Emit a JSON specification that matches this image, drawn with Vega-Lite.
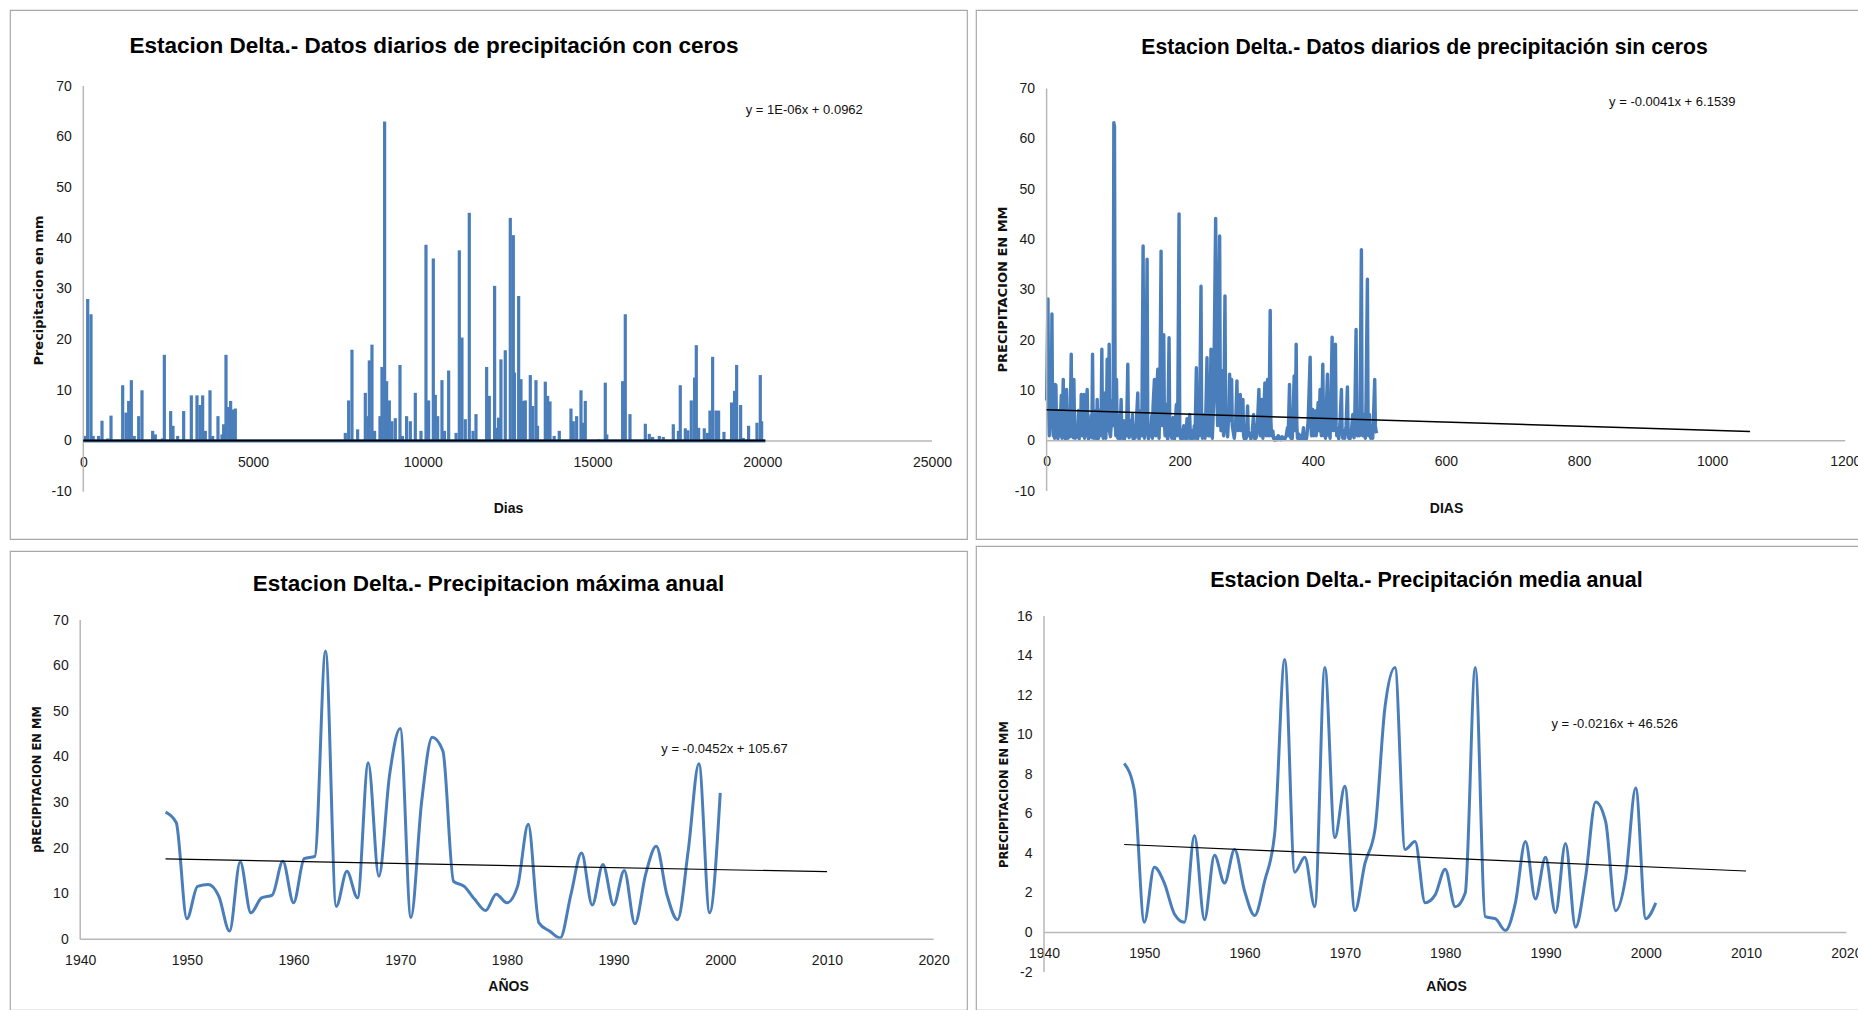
{
"$schema": "https://vega.github.io/schema/vega-lite/v6.json",
"background": "white",
"padding": {"left": 9, "top": 9, "right": 0, "bottom": 0},
"config": {
  "locale": {"number": {"decimal": ".", "thousands": ",", "grouping": [3], "currency": ["$", ""], "minus": "-"}},
  "view": {"stroke": "#a8a8a8", "strokeWidth": 1.2},
  "axis": {"grid": false, "ticks": false, "domain": false, "labelFont": "Liberation Sans, Arial, sans-serif", "labelFontSize": 14, "labelColor": "#1a1a1a", "labelFlush": false, "labelOverlap": false, "format": "d", "titleFont": "Liberation Sans, Arial, sans-serif", "titleFontWeight": "bold", "titleFontSize": 14, "titleColor": "#111111"},
  "axisLeft": {"labelPadding": 12, "titleAngle": -90, "titleBaseline": "middle", "titleAlign": "center", "titleFont": "DejaVu Sans", "titleFontSize": 13},
  "axisBottom": {"labelPadding": 14, "titleBaseline": "middle", "titleAlign": "center"},
  "title": {"font": "Liberation Sans, Arial, sans-serif", "fontSize": 22.5, "fontWeight": "bold", "color": "#000000", "anchor": "middle", "frame": "group"},
  "text": {"font": "Liberation Sans, Arial, sans-serif", "fontSize": 13, "color": "#111111"}
},
"datasets": {
  "p1": [
    {"day":60,"mm":1},{"day":129,"mm":28},{"day":227,"mm":25},{"day":290,"mm":1},{"day":450,"mm":1},{"day":551,"mm":4},{"day":720,"mm":0.5},{"day":816,"mm":5},{"day":1160,"mm":11},{"day":1258,"mm":5.6},{"day":1336,"mm":7.9},{"day":1415,"mm":12},{"day":1500,"mm":1},{"day":1631,"mm":4.9},{"day":1729,"mm":10},{"day":2043,"mm":2},{"day":2122,"mm":1.3},{"day":2330,"mm":0.5},{"day":2387,"mm":17},{"day":2573,"mm":5.9},{"day":2642,"mm":3},{"day":2780,"mm":1},{"day":2956,"mm":5.9},{"day":3182,"mm":9},{"day":3349,"mm":9},{"day":3437,"mm":7.1},{"day":3516,"mm":9},{"day":3594,"mm":2},{"day":3732,"mm":10},{"day":3810,"mm":1},{"day":3967,"mm":4.9},{"day":4085,"mm":1.3},{"day":4134,"mm":3.3},{"day":4203,"mm":17},{"day":4282,"mm":6.7},{"day":4340,"mm":7.9},{"day":4400,"mm":6.2},{"day":4478,"mm":6.4},
    {"day":7718,"mm":1.6},{"day":7816,"mm":8},{"day":7914,"mm":18},{"day":8081,"mm":2.3},{"day":8307,"mm":9.5},{"day":8386,"mm":4.9},{"day":8425,"mm":15.9},{"day":8503,"mm":19},{"day":8580,"mm":2},{"day":8739,"mm":4.9},{"day":8798,"mm":14.6},{"day":8876,"mm":63},{"day":8935,"mm":11.8},{"day":9014,"mm":8},{"day":9092,"mm":3.9},{"day":9191,"mm":4.5},{"day":9328,"mm":15},{"day":9400,"mm":1},{"day":9524,"mm":4.9},{"day":9633,"mm":3.9},{"day":9780,"mm":9.5},{"day":9947,"mm":2},{"day":10094,"mm":38.7},{"day":10172,"mm":8},{"day":10310,"mm":36},{"day":10369,"mm":9.1},{"day":10438,"mm":4.9},{"day":10565,"mm":12},{"day":10640,"mm":2},{"day":10762,"mm":13.9},{"day":10980,"mm":1.6},{"day":11076,"mm":37.6},{"day":11154,"mm":20.4},{"day":11252,"mm":4.3},{"day":11370,"mm":45},{"day":11480,"mm":2},{"day":11567,"mm":5.3},{"day":11881,"mm":14.6},{"day":11959,"mm":8.9},{"day":12116,"mm":30.6},{"day":12180,"mm":2.6},{"day":12234,"mm":4.6},{"day":12302,"mm":16.1},{"day":12430,"mm":17.9},{"day":12578,"mm":44},{"day":12667,"mm":40.6},{"day":12700,"mm":13.5},{"day":12824,"mm":28.6},{"day":12892,"mm":12.2},{"day":12961,"mm":7.9},{"day":13020,"mm":8},{"day":13167,"mm":13},{"day":13240,"mm":6.9},{"day":13334,"mm":12},{"day":13380,"mm":3},{"day":13609,"mm":11.7},{"day":13678,"mm":8.9},{"day":13747,"mm":7.8},{"day":13870,"mm":1},{"day":14021,"mm":2},{"day":14365,"mm":6.4},{"day":14434,"mm":3.9},{"day":14532,"mm":4.9},{"day":14660,"mm":10},{"day":14710,"mm":3.6},{"day":14787,"mm":7.9},{"day":15180,"mm":0.3},{"day":15376,"mm":11.5},{"day":15420,"mm":1.3},{"day":15887,"mm":11.8},{"day":15965,"mm":25},{"day":16103,"mm":5.3},{"day":16555,"mm":3.4},{"day":16672,"mm":1.4},{"day":16770,"mm":0.8},{"day":16967,"mm":1},{"day":17085,"mm":0.8},{"day":17379,"mm":3.3},{"day":17530,"mm":2},{"day":17585,"mm":11},{"day":17733,"mm":2.5},{"day":17810,"mm":2.1},{"day":17909,"mm":8},{"day":18007,"mm":12.5},{"day":18057,"mm":18.9},{"day":18125,"mm":2.6},{"day":18292,"mm":2.5},{"day":18390,"mm":1.6},{"day":18459,"mm":6},{"day":18538,"mm":16.6},{"day":18636,"mm":6},{"day":18714,"mm":6},{"day":18872,"mm":1.8},{"day":19097,"mm":7.6},{"day":19146,"mm":7.1},{"day":19185,"mm":9.9},{"day":19245,"mm":15},{"day":19363,"mm":7.1},{"day":19441,"mm":0.6},{"day":19598,"mm":3},{"day":19844,"mm":3.6},{"day":19942,"mm":13},{"day":19981,"mm":3.9}
  ],
  "p2": [
    {"d":0,"mm":8},{"d":2,"mm":28.2},{"d":3,"mm":6},{"d":4,"mm":1},{"d":5,"mm":4},{"d":7,"mm":5},{"d":8,"mm":25.2},{"d":9,"mm":4.5},{"d":10,"mm":1},{"d":11,"mm":3},{"d":12,"mm":0.5},{"d":13,"mm":11.2},{"d":14,"mm":11},{"d":15,"mm":1},{"d":16,"mm":4},{"d":17,"mm":0.4},{"d":19,"mm":6},{"d":20,"mm":1},{"d":22,"mm":9},{"d":23,"mm":0.5},{"d":25,"mm":12.2},{"d":26,"mm":1},{"d":27,"mm":5},{"d":28,"mm":0.3},{"d":30,"mm":10.2},{"d":31,"mm":2},{"d":32,"mm":0.5},{"d":34,"mm":3},{"d":35,"mm":0.8},{"d":37,"mm":17.2},{"d":38,"mm":1},{"d":39,"mm":4},{"d":40,"mm":0.6},{"d":41,"mm":12.2},{"d":42,"mm":2},{"d":43,"mm":0.5},{"d":45,"mm":3},{"d":46,"mm":0.8},{"d":48,"mm":6},{"d":49,"mm":0.4},{"d":50,"mm":5},{"d":51,"mm":1},{"d":52,"mm":9.2},{"d":53,"mm":9},{"d":54,"mm":1},{"d":55,"mm":3},{"d":56,"mm":9.2},{"d":57,"mm":0.5},{"d":58,"mm":4},{"d":59,"mm":1},{"d":60,"mm":8},{"d":61,"mm":10.2},{"d":62,"mm":2},{"d":63,"mm":0.3},{"d":65,"mm":4},{"d":66,"mm":1},{"d":67,"mm":5},{"d":68,"mm":0.6},{"d":69,"mm":17.2},{"d":70,"mm":3},{"d":71,"mm":0.5},{"d":72,"mm":6},{"d":73,"mm":1},{"d":74,"mm":4},{"d":75,"mm":0.4},{"d":76,"mm":8.2},{"d":77,"mm":2},{"d":78,"mm":0.5},{"d":79,"mm":6},{"d":80,"mm":1},{"d":81,"mm":3},{"d":82,"mm":6},{"d":83,"mm":18.2},{"d":84,"mm":2},{"d":85,"mm":0.5},{"d":86,"mm":5},{"d":87,"mm":9.5},{"d":88,"mm":1},{"d":89,"mm":0.5},{"d":90,"mm":5},{"d":91,"mm":16.2},{"d":92,"mm":2},{"d":93,"mm":4},{"d":94,"mm":19.2},{"d":95,"mm":1.5},{"d":96,"mm":0.8},{"d":98,"mm":5},{"d":99,"mm":8},{"d":100,"mm":3},{"d":101,"mm":63.2},{"d":102,"mm":62.5},{"d":103,"mm":4},{"d":104,"mm":1},{"d":105,"mm":12.2},{"d":106,"mm":2},{"d":107,"mm":0.5},{"d":108,"mm":5},{"d":109,"mm":1},{"d":110,"mm":0.4},{"d":112,"mm":8.2},{"d":113,"mm":1},{"d":114,"mm":0.5},{"d":116,"mm":4},{"d":117,"mm":0.3},{"d":119,"mm":3},{"d":120,"mm":1},{"d":122,"mm":15.2},{"d":123,"mm":2},{"d":124,"mm":0.6},{"d":126,"mm":4},{"d":127,"mm":1},{"d":129,"mm":5.2},{"d":130,"mm":0.3},{"d":131,"mm":2},{"d":133,"mm":0.5},{"d":135,"mm":4},{"d":137,"mm":9.5},{"d":138,"mm":1},{"d":139,"mm":0.3},{"d":141,"mm":3},{"d":142,"mm":6},{"d":143,"mm":1},{"d":145,"mm":38.7},{"d":146,"mm":4},{"d":147,"mm":0.5},{"d":148,"mm":2},{"d":149,"mm":8},{"d":151,"mm":36.1},{"d":152,"mm":2},{"d":153,"mm":0.4},{"d":155,"mm":3},{"d":156,"mm":1},{"d":158,"mm":5},{"d":159,"mm":0.5},{"d":160,"mm":7},{"d":162,"mm":12.2},{"d":163,"mm":3},{"d":164,"mm":1},{"d":165,"mm":8},{"d":167,"mm":14.2},{"d":168,"mm":2},{"d":169,"mm":0.5},{"d":170,"mm":6},{"d":172,"mm":37.7},{"d":173,"mm":5},{"d":174,"mm":3},{"d":176,"mm":21.1},{"d":177,"mm":4},{"d":178,"mm":1},{"d":180,"mm":7.2},{"d":181,"mm":1},{"d":182,"mm":0.3},{"d":184,"mm":20.5},{"d":185,"mm":3},{"d":186,"mm":1},{"d":187,"mm":4},{"d":188,"mm":0.5},{"d":190,"mm":4.6},{"d":191,"mm":1},{"d":192,"mm":0.3},{"d":193,"mm":3},{"d":195,"mm":7.2},{"d":196,"mm":1},{"d":197,"mm":4},{"d":199,"mm":45.1},{"d":200,"mm":3},{"d":201,"mm":0.5},{"d":203,"mm":2},{"d":204,"mm":0.3},{"d":206,"mm":3},{"d":207,"mm":1},{"d":209,"mm":0.4},{"d":211,"mm":4.4},{"d":212,"mm":1},{"d":213,"mm":0.5},{"d":215,"mm":5.2},{"d":216,"mm":1},{"d":217,"mm":0.3},{"d":219,"mm":2},{"d":220,"mm":0.5},{"d":222,"mm":3},{"d":223,"mm":0.5},{"d":225,"mm":14.5},{"d":226,"mm":2},{"d":227,"mm":0.4},{"d":228,"mm":4},{"d":229,"mm":1},{"d":230,"mm":5},{"d":232,"mm":30.7},{"d":233,"mm":3},{"d":234,"mm":0.5},{"d":236,"mm":2},{"d":237,"mm":5.2},{"d":238,"mm":0.5},{"d":239,"mm":4},{"d":241,"mm":16.5},{"d":242,"mm":3},{"d":243,"mm":1},{"d":244,"mm":5},{"d":245,"mm":1},{"d":247,"mm":18.2},{"d":248,"mm":2},{"d":249,"mm":0.5},{"d":250,"mm":4},{"d":251,"mm":8},
    {"d":254,"mm":44.2},{"d":256,"mm":8},{"d":257,"mm":3},{"d":258,"mm":12},{"d":260,"mm":40.7},{"d":261,"mm":6},{"d":262,"mm":2},{"d":264,"mm":13.9},{"d":265,"mm":3},{"d":266,"mm":1},{"d":268,"mm":28.8},{"d":269,"mm":5},{"d":270,"mm":2},{"d":271,"mm":1.9},{"d":272,"mm":0.8},{"d":274,"mm":6},{"d":275,"mm":13.2},{"d":276,"mm":4},{"d":277,"mm":8},{"d":278,"mm":12.2},{"d":279,"mm":3},{"d":281,"mm":1.3},{"d":282,"mm":0.5},{"d":284,"mm":3},{"d":286,"mm":11.9},{"d":287,"mm":4},{"d":288,"mm":2},{"d":290,"mm":5},{"d":291,"mm":9.2},{"d":292,"mm":2},{"d":294,"mm":3},{"d":295,"mm":8.2},{"d":296,"mm":1},{"d":297,"mm":0.4},{"d":299,"mm":1.6},{"d":300,"mm":0.5},{"d":302,"mm":6.9},{"d":303,"mm":2},{"d":304,"mm":1},{"d":306,"mm":1.3},{"d":307,"mm":0.3},{"d":309,"mm":2},{"d":311,"mm":5.2},{"d":312,"mm":1},{"d":313,"mm":0.3},{"d":315,"mm":0.6},{"d":316,"mm":2},{"d":317,"mm":4},{"d":319,"mm":10.2},{"d":320,"mm":3},{"d":321,"mm":1},{"d":323,"mm":8.2},{"d":324,"mm":2},{"d":325,"mm":0.5},{"d":326,"mm":4},{"d":328,"mm":11.5},{"d":329,"mm":3},{"d":330,"mm":1},{"d":331,"mm":6},{"d":332,"mm":12.2},{"d":333,"mm":4},{"d":334,"mm":1},{"d":336,"mm":25.9},{"d":337,"mm":4},{"d":338,"mm":1},{"d":340,"mm":1.9},{"d":341,"mm":0.5},{"d":343,"mm":0.1},{"d":345,"mm":0.6},{"d":347,"mm":0.2},{"d":348,"mm":1},{"d":350,"mm":0.7},{"d":352,"mm":0.2},{"d":354,"mm":0.8},{"d":356,"mm":0.3},{"d":358,"mm":0.3},{"d":360,"mm":1},{"d":362,"mm":2.6},{"d":363,"mm":1},{"d":365,"mm":11.2},{"d":366,"mm":2},{"d":367,"mm":0.5},{"d":368,"mm":1.9},{"d":369,"mm":0.4},{"d":370,"mm":3},{"d":372,"mm":12.9},{"d":373,"mm":2},{"d":374,"mm":6},{"d":375,"mm":19.2},{"d":376,"mm":3},{"d":377,"mm":0.5},{"d":379,"mm":1.3},{"d":380,"mm":0.3},{"d":382,"mm":1},{"d":384,"mm":0.4},{"d":386,"mm":2.6},{"d":387,"mm":0.5},{"d":388,"mm":1},{"d":390,"mm":0.3},{"d":391,"mm":0.8},{"d":393,"mm":4},{"d":396,"mm":16.6},{"d":397,"mm":3},{"d":398,"mm":1},{"d":400,"mm":6.2},{"d":401,"mm":1},{"d":402,"mm":3},{"d":404,"mm":5.9},{"d":405,"mm":1},{"d":406,"mm":3},{"d":408,"mm":7.6},{"d":409,"mm":2},{"d":411,"mm":10.2},{"d":412,"mm":2},{"d":413,"mm":1},{"d":415,"mm":15.2},{"d":416,"mm":4},{"d":417,"mm":1},{"d":418,"mm":2.6},{"d":419,"mm":0.5},{"d":420,"mm":5},{"d":422,"mm":13.2},{"d":423,"mm":3},{"d":424,"mm":1},{"d":425,"mm":1.9},{"d":426,"mm":0.5},{"d":427,"mm":6},{"d":429,"mm":20.6},{"d":430,"mm":4},{"d":431,"mm":2},{"d":432,"mm":8},{"d":434,"mm":19.2},{"d":435,"mm":3},{"d":436,"mm":1},{"d":438,"mm":1.6},{"d":439,"mm":0.4},{"d":441,"mm":4},{"d":443,"mm":10.2},{"d":444,"mm":2},{"d":445,"mm":0.5},{"d":447,"mm":1.9},{"d":448,"mm":0.5},{"d":450,"mm":3},{"d":452,"mm":10.7},{"d":453,"mm":2},{"d":454,"mm":0.5},{"d":455,"mm":1.3},{"d":456,"mm":0.4},{"d":458,"mm":2},{"d":460,"mm":5.2},{"d":461,"mm":1},{"d":462,"mm":0.6},{"d":463,"mm":4},{"d":465,"mm":22.1},{"d":466,"mm":3},{"d":467,"mm":1},{"d":469,"mm":4.6},{"d":470,"mm":1},{"d":471,"mm":6},{"d":473,"mm":38},{"d":474,"mm":5},{"d":475,"mm":1},{"d":477,"mm":5.2},{"d":478,"mm":1},{"d":479,"mm":0.5},{"d":480,"mm":8},{"d":482,"mm":32.1},{"d":483,"mm":4},{"d":484,"mm":1},{"d":485,"mm":5.2},{"d":486,"mm":2},{"d":487,"mm":0.5},{"d":489,"mm":1.3},{"d":490,"mm":0.5},{"d":491,"mm":4},{"d":493,"mm":12.2},{"d":494,"mm":3},{"d":495,"mm":1.9},{"d":496,"mm":1.5}
  ],
  "p3": [
    {"year":1948,"mm":27.9},{"year":1949,"mm":25.6},{"year":1950,"mm":4.5},{"year":1951,"mm":11.6},{"year":1952,"mm":12},{"year":1953,"mm":9.4},{"year":1954,"mm":1.8},{"year":1955,"mm":17},{"year":1956,"mm":5.8},{"year":1957,"mm":9.1},{"year":1958,"mm":9.7},{"year":1959,"mm":17.1},{"year":1960,"mm":8},{"year":1961,"mm":17.7},{"year":1962,"mm":18.2},{"year":1963,"mm":63.2},{"year":1964,"mm":7.2},{"year":1965,"mm":14.9},{"year":1966,"mm":9.1},{"year":1967,"mm":38.7},{"year":1968,"mm":13.8},{"year":1969,"mm":36},{"year":1970,"mm":46.2},{"year":1971,"mm":4.8},{"year":1972,"mm":30},{"year":1973,"mm":44.3},{"year":1974,"mm":41.3},{"year":1975,"mm":12.7},{"year":1976,"mm":11.6},{"year":1977,"mm":8.7},{"year":1978,"mm":6.3},{"year":1979,"mm":9.9},{"year":1980,"mm":8},{"year":1981,"mm":11.6},{"year":1982,"mm":25.2},{"year":1983,"mm":3.6},{"year":1984,"mm":1.8},{"year":1985,"mm":0.3},{"year":1986,"mm":9.8},{"year":1987,"mm":18.9},{"year":1988,"mm":7.5},{"year":1989,"mm":16.4},{"year":1990,"mm":7.5},{"year":1991,"mm":15.1},{"year":1992,"mm":3.4},{"year":1993,"mm":14.2},{"year":1994,"mm":20.4},{"year":1995,"mm":9.8},{"year":1996,"mm":4.3},{"year":1997,"mm":19.5},{"year":1998,"mm":38.5},{"year":1999,"mm":5.8},{"year":2000,"mm":32.1}
  ],
  "p4": [
    {"year":1948,"mm":8.55},{"year":1949,"mm":7.2},{"year":1950,"mm":0.52},{"year":1951,"mm":3.3},{"year":1952,"mm":2.5},{"year":1953,"mm":0.94},{"year":1954,"mm":0.52},{"year":1955,"mm":4.9},{"year":1956,"mm":0.64},{"year":1957,"mm":3.9},{"year":1958,"mm":2.5},{"year":1959,"mm":4.2},{"year":1960,"mm":2.1},{"year":1961,"mm":0.86},{"year":1962,"mm":2.6},{"year":1963,"mm":5.0},{"year":1964,"mm":13.8},{"year":1965,"mm":3.05},{"year":1966,"mm":3.8},{"year":1967,"mm":1.3},{"year":1968,"mm":13.4},{"year":1969,"mm":4.8},{"year":1970,"mm":7.4},{"year":1971,"mm":1.1},{"year":1972,"mm":3.5},{"year":1973,"mm":5.2},{"year":1974,"mm":11.4},{"year":1975,"mm":13.4},{"year":1976,"mm":4.2},{"year":1977,"mm":4.6},{"year":1978,"mm":1.5},{"year":1979,"mm":1.9},{"year":1980,"mm":3.2},{"year":1981,"mm":1.3},{"year":1982,"mm":2.0},{"year":1983,"mm":13.4},{"year":1984,"mm":0.8},{"year":1985,"mm":0.7},{"year":1986,"mm":0.1},{"year":1987,"mm":1.5},{"year":1988,"mm":4.6},{"year":1989,"mm":1.7},{"year":1990,"mm":3.8},{"year":1991,"mm":1.0},{"year":1992,"mm":4.5},{"year":1993,"mm":0.27},{"year":1994,"mm":2.8},{"year":1995,"mm":6.6},{"year":1996,"mm":5.6},{"year":1997,"mm":1.1},{"year":1998,"mm":2.8},{"year":1999,"mm":7.3},{"year":2000,"mm":0.7},{"year":2001,"mm":1.5}
  ]
},
"spacing": 7,
"hconcat": [
  {"spacing": 12, "bounds": "flush", "vconcat": [
    {"width": 957, "height": 529,
     "title": {"text": "Estacion Delta.- Datos diarios de precipitación con ceros", "offset": -47, "dx": -54.5},
     "layer": [
       {"data": {"name": "p1"}, "mark": {"type": "rule", "color": "#4a7ebb", "strokeWidth": 3.2},
        "encoding": {"x": {"field": "day", "type": "quantitative", "scale": {"domain": [-2159.2, 26030.8], "nice": false, "zero": false},
                           "axis": {"values": [0, 5000, 10000, 15000, 20000, 25000], "offset": -98, "title": "Dias", "titleX": 498, "titleY": 67}},
                     "y": {"field": "mm", "type": "quantitative", "scale": {"domain": [-19.33, 85.0], "nice": false, "zero": false},
                           "axis": {"values": [-10, 0, 10, 20, 30, 40, 50, 60, 70], "offset": -73.3, "title": "Precipitacion en mm", "titleX": -45.3, "titleY": 280}},
                     "y2": {"datum": 0}}},
       {"data": {"values": [{}]}, "mark": {"type": "rule", "color": "#b7b7b7", "strokeWidth": 1.5},
        "encoding": {"x": {"datum": 0, "type": "quantitative"}, "y": {"datum": -10, "type": "quantitative"}, "y2": {"datum": 70}}},
       {"data": {"values": [{}]}, "mark": {"type": "rule", "color": "#b7b7b7", "strokeWidth": 1.5},
        "encoding": {"x": {"datum": 0, "type": "quantitative"}, "x2": {"datum": 25000}, "y": {"datum": 0, "type": "quantitative"}}},
       {"data": {"values": [{}]}, "mark": {"type": "rule", "color": "#4a7ebb", "strokeWidth": 3},
        "encoding": {"x": {"datum": 0, "type": "quantitative"}, "x2": {"datum": 20090}, "y": {"datum": 0, "type": "quantitative"}}},
       {"data": {"values": [{}]}, "mark": {"type": "rule", "color": "#000000", "strokeWidth": 2},
        "encoding": {"x": {"datum": 0, "type": "quantitative"}, "x2": {"datum": 20090}, "y": {"datum": 0.0962, "type": "quantitative"}, "y2": {"datum": 0.1163}}},
       {"data": {"values": [{}]}, "mark": {"type": "text"},
        "encoding": {"x": {"datum": 21238, "type": "quantitative"}, "y": {"datum": 65.2, "type": "quantitative"}, "text": {"value": "y = 1E-06x + 0.0962"}}}
     ]},
    {"width": 957, "height": 459,
     "title": {"text": "Estacion Delta.- Precipitacion máxima anual", "offset": -44, "dx": 0},
     "layer": [
       {"data": {"name": "p3"}, "mark": {"type": "line", "color": "#4a7ebb", "strokeWidth": 3, "interpolate": "monotone"},
        "encoding": {"x": {"field": "year", "type": "quantitative", "scale": {"domain": [1933.42, 2023.13], "nice": false, "zero": false},
                           "axis": {"values": [1940, 1950, 1960, 1970, 1980, 1990, 2000, 2010, 2020], "offset": -70.7, "title": "AÑOS", "titleX": 498, "titleY": 46.7}},
                     "y": {"field": "mm", "type": "quantitative", "scale": {"domain": [-15.5, 85.13], "nice": false, "zero": false},
                           "axis": {"values": [0, 10, 20, 30, 40, 50, 60, 70], "offset": -70.2, "title": "pRECIPITACION EN MM", "titleFontSize": 11.5, "titleX": -42.2, "titleY": 228}}}},
       {"data": {"values": [{}]}, "mark": {"type": "rule", "color": "#b7b7b7", "strokeWidth": 1.5},
        "encoding": {"x": {"datum": 1940, "type": "quantitative"}, "y": {"datum": 0, "type": "quantitative"}, "y2": {"datum": 70}}},
       {"data": {"values": [{}]}, "mark": {"type": "rule", "color": "#b7b7b7", "strokeWidth": 1.5},
        "encoding": {"x": {"datum": 1940, "type": "quantitative"}, "x2": {"datum": 2020}, "y": {"datum": 0, "type": "quantitative"}}},
       {"data": {"values": [{}]}, "mark": {"type": "rule", "color": "#000000", "strokeWidth": 1.2},
        "encoding": {"x": {"datum": 1948, "type": "quantitative"}, "x2": {"datum": 2010}, "y": {"datum": 17.62, "type": "quantitative"}, "y2": {"datum": 14.82}}},
       {"data": {"values": [{}]}, "mark": {"type": "text"},
        "encoding": {"x": {"datum": 2000.4, "type": "quantitative"}, "y": {"datum": 41.7, "type": "quantitative"}, "text": {"value": "y = -0.0452x + 105.67"}}}
     ]}
  ]},
  {"spacing": 7, "bounds": "flush", "vconcat": [
    {"width": 884, "height": 529,
     "title": {"text": "Estacion Delta.- Datos diarios de precipitación sin ceros", "offset": -48, "dx": 6.5, "fontSize": 21.2},
     "layer": [
       {"data": {"name": "p2"}, "mark": {"type": "line", "color": "#4a7ebb", "strokeWidth": 3.4, "strokeJoin": "round"},
        "encoding": {"x": {"field": "d", "type": "quantitative", "scale": {"domain": [-106.1, 1222.2], "nice": false, "zero": false},
                           "axis": {"values": [0, 200, 400, 600, 800, 1000, 1200], "offset": -98.3, "title": "DIAS", "titleX": 470, "titleY": 67.3}},
                     "y": {"field": "mm", "type": "quantitative", "scale": {"domain": [-19.54, 85.63], "nice": false, "zero": false},
                           "axis": {"values": [-10, 0, 10, 20, 30, 40, 50, 60, 70], "offset": -70.6, "title": "PRECIPITACION EN MM", "titleX": -44.6, "titleY": 279}}}},
       {"data": {"values": [{}]}, "mark": {"type": "rule", "color": "#b7b7b7", "strokeWidth": 1.5},
        "encoding": {"x": {"datum": 0, "type": "quantitative"}, "y": {"datum": -10, "type": "quantitative"}, "y2": {"datum": 70}}},
       {"data": {"values": [{}]}, "mark": {"type": "rule", "color": "#b7b7b7", "strokeWidth": 1.5},
        "encoding": {"x": {"datum": 0, "type": "quantitative"}, "x2": {"datum": 1200}, "y": {"datum": 0, "type": "quantitative"}}},
       {"data": {"values": [{}]}, "mark": {"type": "rule", "color": "#000000", "strokeWidth": 1.5},
        "encoding": {"x": {"datum": 0, "type": "quantitative"}, "x2": {"datum": 1057}, "y": {"datum": 6.1539, "type": "quantitative"}, "y2": {"datum": 1.82}}},
       {"data": {"values": [{}]}, "mark": {"type": "text"},
        "encoding": {"x": {"datum": 940.2, "type": "quantitative"}, "y": {"datum": 67.4, "type": "quantitative"}, "text": {"value": "y = -0.0041x + 6.1539"}}}
     ]},
    {"width": 884, "height": 464,
     "title": {"text": "Estacion Delta.- Precipitación media anual", "offset": -45, "dx": 8.5, "fontSize": 21.5},
     "layer": [
       {"data": {"name": "p4"}, "mark": {"type": "line", "color": "#4a7ebb", "strokeWidth": 3, "interpolate": "monotone"},
        "encoding": {"x": {"field": "year", "type": "quantitative", "scale": {"domain": [1933.22, 2021.36], "nice": false, "zero": false},
                           "axis": {"values": [1940, 1950, 1960, 1970, 1980, 1990, 2000, 2010, 2020], "offset": -77.5, "title": "AÑOS", "titleX": 470, "titleY": 53.5}},
                     "y": {"field": "mm", "type": "quantitative", "scale": {"domain": [-3.918, 19.54], "nice": false, "zero": false},
                           "axis": {"values": [-2, 0, 2, 4, 6, 8, 10, 12, 14, 16], "offset": -68, "title": "PRECIPITACION EN MM", "titleFontSize": 11.5, "titleX": -40, "titleY": 248}}}},
       {"data": {"values": [{}]}, "mark": {"type": "rule", "color": "#b7b7b7", "strokeWidth": 1.5},
        "encoding": {"x": {"datum": 1940, "type": "quantitative"}, "y": {"datum": -2, "type": "quantitative"}, "y2": {"datum": 16}}},
       {"data": {"values": [{}]}, "mark": {"type": "rule", "color": "#b7b7b7", "strokeWidth": 1.5},
        "encoding": {"x": {"datum": 1940, "type": "quantitative"}, "x2": {"datum": 2020}, "y": {"datum": 0, "type": "quantitative"}}},
       {"data": {"values": [{}]}, "mark": {"type": "rule", "color": "#000000", "strokeWidth": 1.2},
        "encoding": {"x": {"datum": 1948, "type": "quantitative"}, "x2": {"datum": 2010}, "y": {"datum": 4.449, "type": "quantitative"}, "y2": {"datum": 3.11}}},
       {"data": {"values": [{}]}, "mark": {"type": "text"},
        "encoding": {"x": {"datum": 1996.9, "type": "quantitative"}, "y": {"datum": 10.56, "type": "quantitative"}, "text": {"value": "y = -0.0216x + 46.526"}}}
     ]}
  ]}
]
}
